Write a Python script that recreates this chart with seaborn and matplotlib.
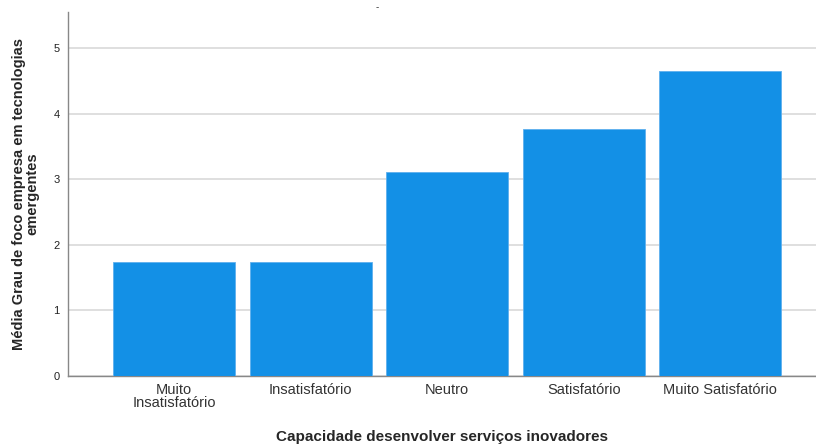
import matplotlib
matplotlib.use("Agg")
import matplotlib.pyplot as plt
import seaborn as sns
import pandas as pd

categorias = ['Muito\nInsatisfatório', 'Insatisfatório', 'Neutro', 'Satisfatório', 'Muito Satisfatório']
medias = [1.74, 1.74, 3.11, 3.77, 4.65]

df = pd.DataFrame({'Capacidade': categorias, 'Media': medias})

sns.set_style('white')
plt.rcParams['font.family'] = ['Liberation Sans', 'DejaVu Sans']

fig = plt.figure(figsize=(8.16, 4.47), dpi=100)
ax = fig.add_axes([0.0833, 0.1588, 0.9167, 0.8142])

sns.barplot(data=df, x='Capacidade', y='Media', color='#1390e6', saturation=1,
            width=0.893, edgecolor='#5fb0ee', linewidth=0.6, ax=ax, zorder=3)

ax.set_ylim(0, 5.55)
ax.set_xlim(-0.776, 4.70)
ax.set_yticks([0, 1, 2, 3, 4, 5])
ax.yaxis.grid(True, color='#d9d9d9', linewidth=1.2, zorder=0)
ax.set_axisbelow(True)
for s in ['top', 'right']:
    ax.spines[s].set_visible(False)
for s in ['left', 'bottom']:
    ax.spines[s].set_color('#888888')
    ax.spines[s].set_linewidth(1.0)
ax.tick_params(axis='y', length=0, labelsize=8, colors='#222222', pad=6)
ax.tick_params(axis='x', length=0, labelsize=10.5, colors='#333333', pad=5)
for t in ax.get_xticklabels():
    t.set_linespacing(0.95)

ax.set_xlabel('Capacidade desenvolver serviços inovadores', fontsize=11, fontweight='bold', labelpad=14)
ax.set_ylabel('Média Grau de foco empresa em tecnologias\nemergentes', fontsize=10.5, fontweight='bold',
              linespacing=1.0, labelpad=10)
fig.text(0.462, 0.985, '-', fontsize=7, ha='center', va='center', color='#333333')

fig.savefig('out.png', dpi=100)
